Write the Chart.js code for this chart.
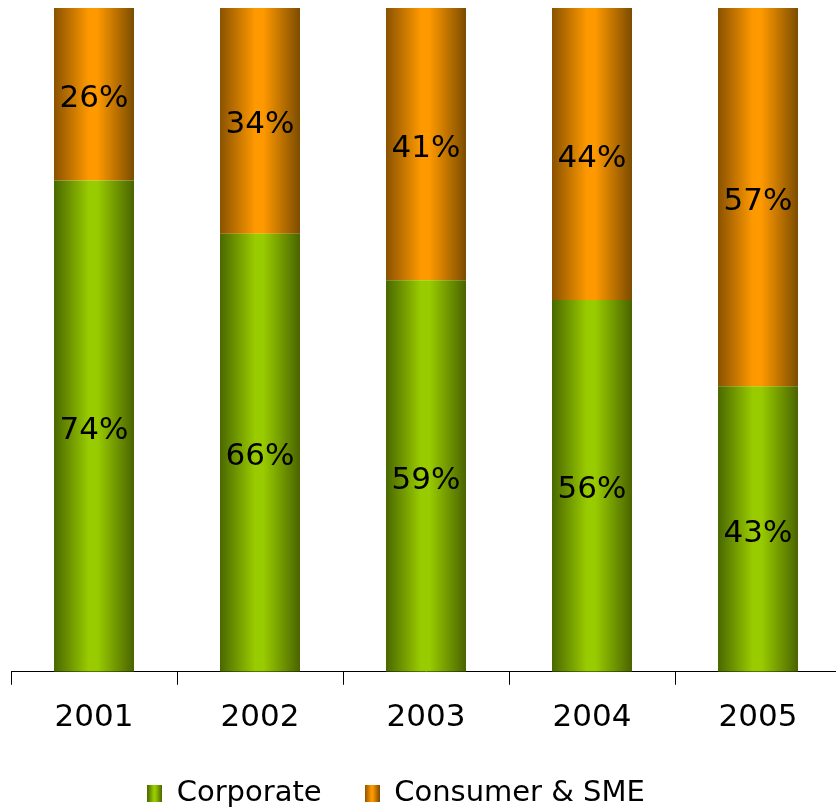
<!DOCTYPE html>
<html>
<head>
<meta charset="utf-8">
<script src="https://cdn.jsdelivr.net/npm/chart.js@4/dist/chart.umd.min.js"></script>
<style>
  html, body { margin: 0; padding: 0; background: #fff; overflow: hidden; }
  #wrap { width: 836px; height: 808px; overflow: hidden; }
</style>
</head>
<body>
<div id="wrap"><canvas id="c" width="842" height="834"></canvas></div>
<script>
// Share of the loan book by segment, per year (percent)
const years = ['2001', '2002', '2003', '2004', '2005'];
const corporate = [74, 66, 59, 56, 43];
const consumerSme = [26, 34, 41, 44, 57];
const seriesNames = ['Corporate', 'Consumer & SME'];

const FONT = 'DejaVu Sans';
const FONT_SIZE = 31;
const LEGEND_FONT_SIZE = 29;
const CATEGORY_PCT = 0.482;

// Cylinder-like shading: dark edges, bright band near the centre
const stopPos = [0, 0.44, 0.54, 1];
const greenStops = ['#4a6800', '#99cc00', '#99cc00', '#4a6400'];
const orangeStops = ['#8a5200', '#ff9900', '#ff9900', '#7c4c00'];

function makeGradient(ctx, x0, x1, stops) {
  const g = ctx.createLinearGradient(x0, 0, x1, 0);
  stops.forEach((c, i) => g.addColorStop(stopPos[i], c));
  return g;
}

function barFill(stops) {
  return (context) => {
    const chart = context.chart;
    const xs = chart.scales.x;
    if (context.type !== 'data' || !xs || !chart.chartArea) return stops[1];
    const cx = xs.getPixelForValue(context.dataIndex);
    const half = (xs.width / years.length) * CATEGORY_PCT / 2;
    return makeGradient(chart.ctx, cx - half, cx + half, stops);
  };
}

function legendIcon(stops) {
  const cv = document.createElement('canvas');
  cv.width = 15; cv.height = 17;
  const c = cv.getContext('2d');
  c.fillStyle = makeGradient(c, 0, 15, stops);
  c.fillRect(0, 0, 15, 17);
  return cv;
}
const icons = [legendIcon(greenStops), legendIcon(orangeStops)];

// Percent text centred inside each stacked segment
const valueLabels = {
  id: 'valueLabels',
  afterDatasetsDraw(chart) {
    const ctx = chart.ctx;
    ctx.save();
    ctx.font = FONT_SIZE + 'px "' + FONT + '"';
    ctx.fillStyle = '#000';
    ctx.textAlign = 'center';
    ctx.textBaseline = 'middle';
    chart.data.datasets.forEach((ds, di) => {
      chart.getDatasetMeta(di).data.forEach((bar, i) => {
        const p = bar.getProps(['x', 'y', 'base'], true);
        ctx.fillText(ds.data[i] + '%', p.x, (p.y + p.base) / 2 + 4.5);
      });
    });
    ctx.restore();
  }
};

// Nudge the legend block left and up from its default centred slot
const legendOffset = {
  id: 'legendOffset',
  afterLayout(chart) {
    const l = chart.legend;
    if (!l) return;
    l.left -= 30; l.right -= 30;
    l.top -= 16; l.bottom -= 16;
  }
};

new Chart(document.getElementById('c'), {
  type: 'bar',
  data: {
    labels: years,
    datasets: [
      { label: seriesNames[0], data: corporate, backgroundColor: barFill(greenStops),
        borderWidth: 0, barPercentage: 1, categoryPercentage: CATEGORY_PCT },
      { label: seriesNames[1], data: consumerSme, backgroundColor: barFill(orangeStops),
        borderWidth: 0, barPercentage: 1, categoryPercentage: CATEGORY_PCT }
    ]
  },
  options: {
    responsive: false,
    animation: false,
    layout: { padding: { left: 11, right: 1, top: 8, bottom: 0 } },
    scales: {
      x: {
        stacked: true,
        grid: { display: true, drawOnChartArea: false, drawTicks: true, tickLength: 13,
                color: '#000', lineWidth: 1, offset: true },
        border: { display: true, color: '#000', width: 1 },
        ticks: { color: '#000', font: { family: FONT, size: FONT_SIZE }, padding: 15 }
      },
      y: { stacked: true, display: false, min: 0, max: 100 }
    },
    plugins: {
      tooltip: { enabled: false },
      legend: {
        position: 'bottom',
        labels: {
          usePointStyle: true,
          boxWidth: 15,
          boxHeight: 17,
          padding: 43,
          color: '#000',
          font: { family: FONT, size: LEGEND_FONT_SIZE },
          generateLabels(chart) {
            return chart.data.datasets.map((ds, i) => ({
              text: ds.label,
              pointStyle: icons[i],
              fillStyle: 'transparent',
              strokeStyle: 'transparent',
              lineWidth: 0,
              datasetIndex: i,
              hidden: false,
              fontColor: '#000'
            }));
          }
        }
      }
    }
  },
  plugins: [valueLabels, legendOffset]
});
</script>
</body>
</html>
